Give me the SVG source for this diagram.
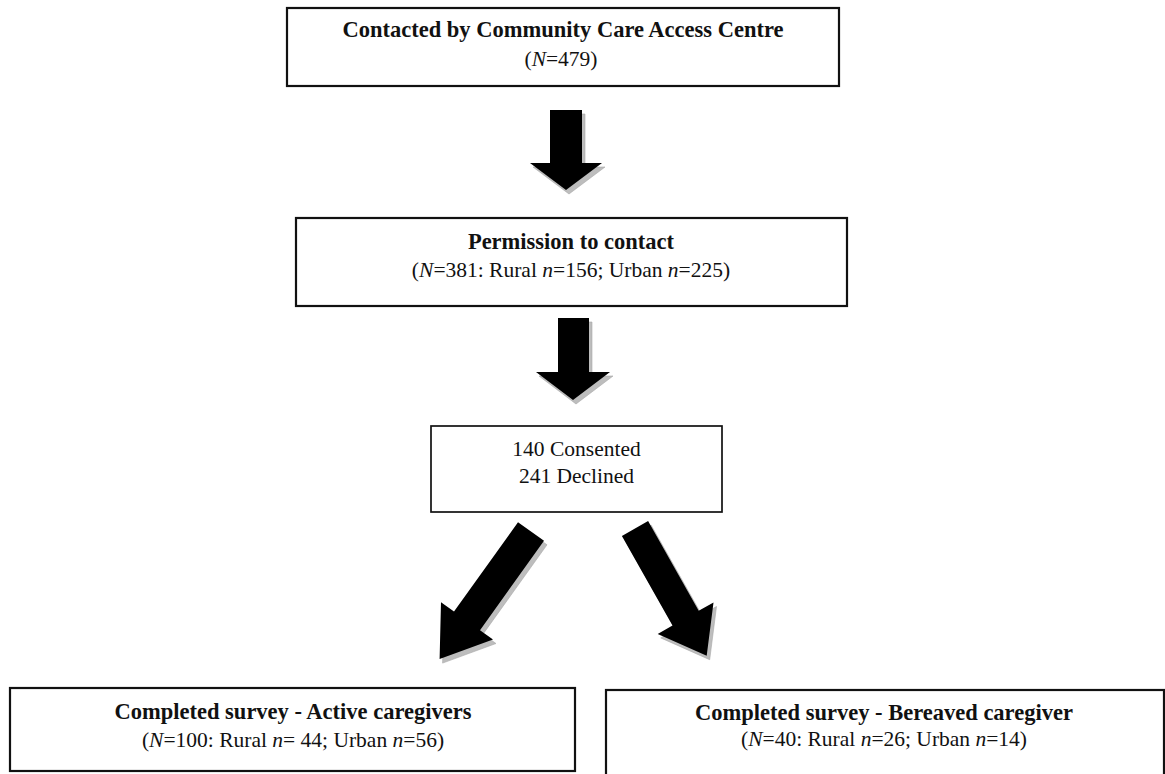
<svg xmlns="http://www.w3.org/2000/svg" width="1165" height="774" viewBox="0 0 1165 774">
<style>
.box{fill:#fff;stroke:#111;stroke-width:2.2}
.thin{stroke-width:1.7}
.b{font-family:"Liberation Serif","Times New Roman",serif;font-weight:bold;font-size:22.5px;fill:#111;text-anchor:middle}
.r{font-family:"Liberation Serif","Times New Roman",serif;font-size:21.5px;fill:#111;text-anchor:middle}
.i{font-style:italic}
.arr{fill:#000}
.sh{fill:#bdbdbd;stroke:#a8a8a8;stroke-width:0.6}
</style>
<rect width="1165" height="774" fill="#fff"/>
<g id="connectors">
  <g id="arrow1">
    <polygon class="sh" transform="translate(3,4)" points="550,110 582,110 582,163 602,163 566,190 530,163 550,163"/>
    <polygon class="arr" points="550,110 582,110 582,163 602,163 566,190 530,163 550,163"/>
  </g>
  <g id="arrow2">
    <polygon class="sh" transform="translate(3,4)" points="558,318 589,318 589,372 610,372 573,400 536,372 558,372"/>
    <polygon class="arr" points="558,318 589,318 589,372 610,372 573,400 536,372 558,372"/>
  </g>
  <g id="arrow3">
    <polygon class="sh" transform="translate(3,4)" points="518,522.2 544,540.8 480,630.2 493,639.5 439.6,659.1 441,602.3 454,611.6"/>
    <polygon class="arr" points="518,522.2 544,540.8 480,630.2 493,639.5 439.6,659.1 441,602.3 454,611.6"/>
  </g>
  <g id="arrow4">
    <polygon class="sh" transform="translate(3,4)" points="648.1,521.1 698.7,610.8 713.5,602.5 706.7,655.7 657.7,633.9 672.5,625.6 621.9,535.9"/>
    <polygon class="arr" points="648.1,521.1 698.7,610.8 713.5,602.5 706.7,655.7 657.7,633.9 672.5,625.6 621.9,535.9"/>
  </g>
</g>
<g id="node-contacted">
  <rect class="box" x="287" y="8" width="552" height="78"/>
  <text class="b" x="563" y="37">Contacted by Community Care Access Centre</text>
  <text class="r" x="561" y="66">(<tspan class="i">N</tspan>=479)</text>
</g>
<g id="node-permission">
  <rect class="box" x="296" y="218" width="551" height="88"/>
  <text class="b" x="571" y="249">Permission to contact</text>
  <text class="r" x="571" y="277">(<tspan class="i">N</tspan>=381: Rural <tspan class="i">n</tspan>=156; Urban <tspan class="i">n</tspan>=225)</text>
</g>
<g id="node-consent">
  <rect class="box thin" x="431" y="426" width="291" height="86"/>
  <text class="r" x="576.5" y="456">140 Consented</text>
  <text class="r" x="576.5" y="483">241 Declined</text>
</g>
<g id="node-active">
  <rect class="box" x="10" y="688" width="565" height="83"/>
  <text class="b" x="293" y="719">Completed survey - Active caregivers</text>
  <text class="r" x="293" y="747">(<tspan class="i">N</tspan>=100: Rural <tspan class="i">n</tspan>= 44; Urban <tspan class="i">n</tspan>=56)</text>
</g>
<g id="node-bereaved">
  <rect class="box" x="606" y="690" width="558" height="100"/>
  <text class="b" x="884" y="720">Completed survey - Bereaved caregiver</text>
  <text class="r" x="884" y="746">(<tspan class="i">N</tspan>=40: Rural <tspan class="i">n</tspan>=26; Urban <tspan class="i">n</tspan>=14)</text>
</g>
</svg>
